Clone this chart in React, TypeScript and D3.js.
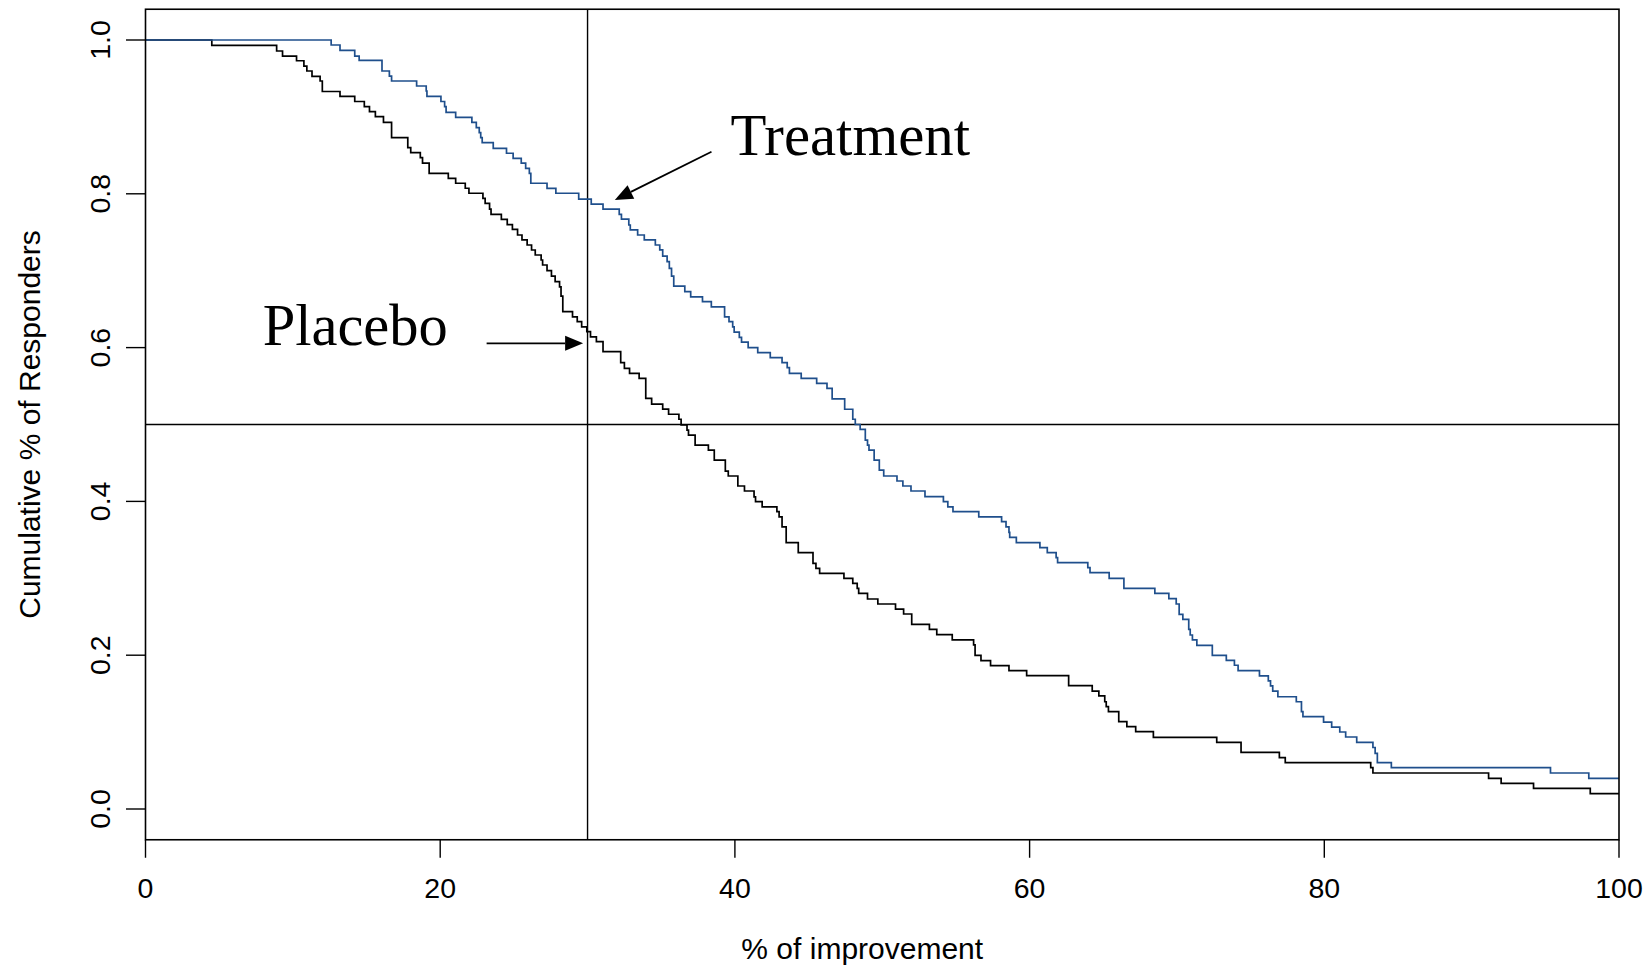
import React from "react";
import * as d3 from "d3";

// % of improvement at which each step starts, and cumulative proportion from there on
const treatmentX = [0, 12.6, 13.2, 14.2, 14.5, 16.05, 16.55, 16.7, 18.4, 19.05, 19.1, 20.05, 20.3, 20.4, 21.05, 22.15, 22.45, 22.65, 22.75, 22.85, 23.6, 24.5, 24.95, 25.5, 25.8, 26.05, 26.15, 27.25, 27.85, 29.4, 30.25, 31.05, 32.15, 32.3, 32.8, 32.9, 33.4, 33.85, 34.6, 34.9, 35.1, 35.4, 35.55, 35.7, 35.85, 36.6, 37.0, 37.8, 38.4, 39.3, 39.6, 39.85, 39.95, 40.3, 40.45, 40.9, 41.55, 42.4, 43.2, 43.55, 43.7, 44.5, 45.55, 46.25, 46.6, 47.45, 48.0, 48.17, 48.5, 48.85, 49.0, 49.1, 49.45, 49.8, 50.1, 51.0, 51.4, 51.95, 52.9, 54.15, 54.45, 54.8, 56.55, 58.1, 58.4, 58.6, 58.65, 59.1, 60.7, 61.2, 61.8, 61.9, 63.95, 64.1, 65.4, 66.4, 68.5, 69.45, 69.95, 70.15, 70.4, 70.8, 70.9, 71.05, 71.35, 72.4, 73.35, 73.9, 74.15, 75.6, 76.2, 76.35, 76.5, 76.85, 78.1, 78.45, 78.55, 79.95, 80.5, 81.05, 81.45, 82.2, 83.3, 83.45, 83.6, 84.55, 95.35, 97.95, 100];
const treatmentY = [1.0, 0.9935, 0.9865, 0.979, 0.9735, 0.9597, 0.953, 0.9467, 0.9402, 0.9337, 0.9268, 0.92, 0.9133, 0.906, 0.8995, 0.893, 0.886, 0.8795, 0.873, 0.8665, 0.859, 0.8527, 0.846, 0.84, 0.833, 0.8266, 0.8137, 0.807, 0.8007, 0.7932, 0.7867, 0.78, 0.7733, 0.767, 0.7594, 0.753, 0.7464, 0.74, 0.7334, 0.727, 0.719, 0.7117, 0.703, 0.693, 0.68, 0.6727, 0.666, 0.6597, 0.653, 0.64, 0.6337, 0.627, 0.62, 0.6134, 0.607, 0.6, 0.5934, 0.5869, 0.5804, 0.5739, 0.5666, 0.56, 0.5536, 0.547, 0.5332, 0.5198, 0.5068, 0.5, 0.4936, 0.4798, 0.4733, 0.4668, 0.4538, 0.4408, 0.433, 0.4265, 0.42, 0.4135, 0.4061, 0.3996, 0.393, 0.3866, 0.38, 0.3736, 0.367, 0.3598, 0.3533, 0.3463, 0.34, 0.3333, 0.3268, 0.3203, 0.3138, 0.3073, 0.3, 0.287, 0.2805, 0.2735, 0.2666, 0.2532, 0.2467, 0.2337, 0.2263, 0.2198, 0.2129, 0.1999, 0.1934, 0.1869, 0.18, 0.173, 0.1665, 0.16, 0.1534, 0.146, 0.1395, 0.1265, 0.12, 0.1131, 0.1066, 0.1001, 0.0936, 0.0867, 0.08, 0.0724, 0.0602, 0.0537, 0.0468, 0.0399, 0.0399];

const placeboX = [0, 4.5, 8.9, 9.3, 10.25, 10.75, 10.95, 11.3, 11.85, 12.0, 13.2, 14.2, 14.85, 15.2, 15.6, 16.15, 16.7, 17.8, 18.0, 18.65, 18.8, 19.25, 20.55, 21.05, 21.7, 21.95, 22.9, 23.05, 23.35, 23.45, 24.15, 24.55, 24.9, 25.25, 25.55, 25.9, 26.2, 26.45, 26.85, 26.95, 27.25, 27.55, 27.8, 28.1, 28.2, 28.32, 28.98, 29.3, 29.6, 29.95, 30.2, 30.6, 31.05, 32.25, 32.5, 32.85, 33.5, 33.95, 34.35, 35.1, 35.5, 36.2, 36.35, 36.75, 36.85, 37.3, 38.2, 38.6, 39.35, 39.55, 40.2, 40.65, 41.3, 41.4, 41.85, 42.85, 43.0, 43.2, 43.48, 44.3, 45.3, 45.5, 45.75, 47.4, 48.0, 48.3, 48.4, 49.0, 49.7, 50.9, 51.45, 52.0, 53.2, 53.7, 54.75, 56.2, 56.3, 56.7, 57.35, 58.6, 59.8, 62.65, 64.25, 64.7, 65.1, 65.2, 65.35, 66.05, 66.6, 67.2, 68.4, 72.7, 74.35, 76.95, 77.35, 83.15, 83.3, 91.15, 92.0, 94.2, 98.05, 100];
const placeboY = [1.0, 0.993, 0.9857, 0.979, 0.973, 0.966, 0.9597, 0.9528, 0.9467, 0.933, 0.9268, 0.92, 0.9133, 0.9068, 0.9003, 0.893, 0.873, 0.86, 0.8535, 0.847, 0.84, 0.8266, 0.82, 0.8137, 0.8072, 0.8007, 0.794, 0.7876, 0.78, 0.7733, 0.7668, 0.76, 0.7538, 0.7464, 0.74, 0.7334, 0.7269, 0.7204, 0.7139, 0.7074, 0.7, 0.693, 0.6857, 0.679, 0.667, 0.6467, 0.64, 0.6337, 0.627, 0.6207, 0.614, 0.6077, 0.5947, 0.5804, 0.573, 0.5666, 0.56, 0.534, 0.5266, 0.52, 0.5133, 0.5068, 0.4994, 0.4928, 0.4863, 0.4733, 0.4668, 0.4538, 0.4395, 0.433, 0.42, 0.4135, 0.406, 0.3996, 0.393, 0.3866, 0.38, 0.367, 0.3463, 0.3333, 0.3195, 0.313, 0.3065, 0.3, 0.2935, 0.287, 0.2805, 0.2731, 0.2666, 0.26, 0.2536, 0.24, 0.2337, 0.2267, 0.22, 0.2133, 0.1999, 0.193, 0.1864, 0.18, 0.1734, 0.1604, 0.1534, 0.147, 0.1395, 0.133, 0.1265, 0.1135, 0.107, 0.1005, 0.0932, 0.0867, 0.0737, 0.0667, 0.0602, 0.0537, 0.0468, 0.0399, 0.0334, 0.0269, 0.02, 0.02];

const xTicks = [0, 20, 40, 60, 80, 100];
const yTicks = [0, 0.2, 0.4, 0.6, 0.8, 1.0];
const refX = 30;
const refY = 0.5;

const xTitle = "% of improvement";
const yTitle = "Cumulative % of Responders";

// annotation anchors in data units
const treatmentNote = { label: "Treatment", tx: 39.7, ty: 0.8505, fx: 38.41, fy: 0.8547, toX: 31.85, toY: 0.792 };
const placeboNote = { label: "Placebo", tx: 7.95, ty: 0.6036, fx: 23.15, fy: 0.6056, toX: 29.7, toY: 0.6056 };

const W = 1650;
const H = 969;

export default function App() {
  const x = d3.scaleLinear().domain([0, 100]).range([145.5, 1619]);
  const y = d3.scaleLinear().domain([0, 1]).range([809, 40]);
  const left = x(0);
  const right = x(100);
  const top = y(1.04);
  const bottom = y(-0.04);

  const line = d3
    .line<[number, number]>()
    .x((d) => x(d[0]))
    .y((d) => y(d[1]))
    .curve(d3.curveStepAfter);

  const tPts = treatmentX.map((v, i) => [v, treatmentY[i]] as [number, number]);
  const pPts = placeboX.map((v, i) => [v, placeboY[i]] as [number, number]);
  const fmt = d3.format(".1f");
  const axisFont = "'Liberation Sans', Arial, Helvetica, sans-serif";
  const serif = "'Liberation Serif', 'Times New Roman', serif";

  const arrow = (n: typeof treatmentNote) => {
    const x1 = x(n.fx), y1 = y(n.fy), x2 = x(n.toX), y2 = y(n.toY);
    const ang = Math.atan2(y2 - y1, x2 - x1);
    const L = 18, hw = 7.5;
    const bx = x2 - L * Math.cos(ang), by = y2 - L * Math.sin(ang);
    const px = -Math.sin(ang) * hw, py = Math.cos(ang) * hw;
    return (
      <g>
        <line x1={x1} y1={y1} x2={bx} y2={by} stroke="#000" strokeWidth={1.8} />
        <polygon points={`${x2},${y2} ${bx + px},${by + py} ${bx - px},${by - py}`} fill="#000" />
      </g>
    );
  };

  return (
    <svg width={W} height={H} style={{ position: "absolute", left: 0, top: 0, background: "#fff" }}>
      <rect x={0} y={0} width={W} height={H} fill="#fff" />
      {/* reference lines */}
      <line x1={x(refX)} x2={x(refX)} y1={top} y2={bottom} stroke="#000" strokeWidth={1.4} />
      <line x1={left} x2={right} y1={y(refY)} y2={y(refY)} stroke="#000" strokeWidth={1.4} />
      {/* curves */}
      <path d={line(pPts) || ""} fill="none" stroke="#000" strokeWidth={1.7} />
      <path d={line(tPts) || ""} fill="none" stroke="#1f4f8c" strokeWidth={1.7} />
      {/* box */}
      <rect x={left} y={top} width={right - left} height={bottom - top} fill="none" stroke="#000" strokeWidth={1.6} />
      {/* y axis */}
      {yTicks.map((t) => (
        <g key={"y" + t}>
          <line x1={left - 19.5} x2={left} y1={y(t)} y2={y(t)} stroke="#000" strokeWidth={1.4} />
          <text
            transform={`translate(110,${y(t)}) rotate(-90)`}
            textAnchor="middle"
            fontFamily={axisFont}
            fontSize={28.5}
            fill="#000"
          >
            {fmt(t)}
          </text>
        </g>
      ))}
      {/* x axis */}
      {xTicks.map((t) => (
        <g key={"x" + t}>
          <line x1={x(t)} x2={x(t)} y1={bottom} y2={bottom + 18} stroke="#000" strokeWidth={1.4} />
          <text x={x(t)} y={898} textAnchor="middle" fontFamily={axisFont} fontSize={28.5} fill="#000">
            {t}
          </text>
        </g>
      ))}
      <text x={(left + right) / 2 - 20} y={959} textAnchor="middle" fontFamily={axisFont} fontSize={30} fill="#000">
        {xTitle}
      </text>
      <text
        transform={`translate(40,${(top + bottom) / 2}) rotate(-90)`}
        textAnchor="middle"
        fontFamily={axisFont}
        fontSize={30}
        fill="#000"
      >
        {yTitle}
      </text>
      {/* annotations */}
      {arrow(treatmentNote)}
      {arrow(placeboNote)}
      <text x={x(treatmentNote.tx)} y={y(treatmentNote.ty)} fontFamily={serif} fontSize={58.8} fill="#000">
        {treatmentNote.label}
      </text>
      <text x={x(placeboNote.tx)} y={y(placeboNote.ty)} fontFamily={serif} fontSize={58.5} fill="#000">
        {placeboNote.label}
      </text>
    </svg>
  );
}
